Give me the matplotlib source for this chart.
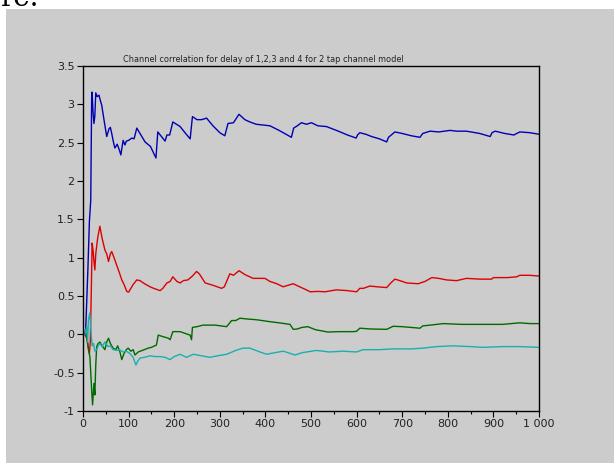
import matplotlib
matplotlib.use("Agg")
import matplotlib.pyplot as plt
from matplotlib.ticker import FuncFormatter, MultipleLocator
from matplotlib.patches import Rectangle

# delay 1 (blue)
x_blue = [4, 6, 8, 11, 14, 17, 19, 20, 22, 24, 26, 28, 31, 35, 38, 41, 46, 52, 57, 60, 63, 67, 70, 75, 80, 83,
          88, 92, 95, 100, 107, 112, 115, 118, 127, 136, 148, 160, 164, 172, 180, 184, 190, 197, 213, 225, 235,
          240, 250, 260, 271, 285, 300, 311, 318, 330, 342, 355, 366, 380, 395, 410, 430, 457, 462, 470, 479,
          490, 501, 515, 534, 560, 580, 599, 602, 607, 620, 633, 650, 666, 670, 684, 700, 720, 739, 745, 761,
          780, 805, 820, 841, 870, 893, 897, 904, 925, 945, 951, 958, 980, 1000]
y_blue = [0.0, 0.08, 0.4, 0.9, 1.47, 1.75, 3.10, 3.16, 2.9, 2.75, 2.85, 3.15, 3.1, 3.12, 3.05, 2.99, 2.8, 2.58,
          2.68, 2.7, 2.62, 2.5, 2.43, 2.48, 2.4, 2.34, 2.53, 2.47, 2.52, 2.53, 2.56, 2.55, 2.62, 2.69, 2.6, 2.51,
          2.45, 2.3, 2.64, 2.58, 2.52, 2.6, 2.6, 2.77, 2.71, 2.62, 2.55, 2.84, 2.8, 2.8, 2.82, 2.72, 2.63, 2.59,
          2.75, 2.76, 2.87, 2.8, 2.77, 2.74, 2.73, 2.72, 2.66, 2.57, 2.69, 2.72, 2.76, 2.74, 2.76, 2.72, 2.71,
          2.65, 2.6, 2.56, 2.6, 2.63, 2.61, 2.58, 2.55, 2.51, 2.57, 2.64, 2.62, 2.59, 2.57, 2.62, 2.65, 2.64,
          2.66, 2.65, 2.65, 2.62, 2.58, 2.63, 2.65, 2.62, 2.60, 2.62, 2.64, 2.63, 2.61]

# delay 2 (red)
x_red = [4, 8, 11, 14, 16, 18, 20, 22, 24, 26, 28, 32, 37, 42, 48, 52, 56, 60, 63, 68, 74, 80, 85, 90, 96, 100,
         105, 110, 118, 125, 135, 147, 155, 169, 175, 184, 191, 197, 206, 213, 220, 230, 240, 249, 255, 268, 285,
         304, 310, 322, 330, 342, 355, 373, 390, 399, 410, 425, 439, 450, 461, 475, 490, 498, 515, 531, 545, 556,
         580, 600, 607, 615, 629, 645, 666, 675, 684, 695, 710, 735, 750, 765, 780, 797, 819, 841, 870, 896, 900,
         930, 951, 958, 980, 1000]
y_red = [0.0, -0.05, -0.15, -0.25, -0.1, 0.5, 1.19, 1.1, 0.95, 0.84, 1.05, 1.25, 1.41, 1.25, 1.10, 1.05, 0.95,
         1.05, 1.08, 1.0, 0.90, 0.8, 0.71, 0.65, 0.56, 0.55, 0.6, 0.65, 0.71, 0.7, 0.66, 0.62, 0.6, 0.57, 0.6,
         0.67, 0.69, 0.75, 0.69, 0.67, 0.7, 0.71, 0.76, 0.82, 0.79, 0.67, 0.64, 0.60, 0.62, 0.79, 0.77, 0.83,
         0.78, 0.73, 0.73, 0.73, 0.69, 0.66, 0.62, 0.64, 0.66, 0.62, 0.58, 0.555, 0.56, 0.555, 0.57, 0.58, 0.57,
         0.555, 0.6, 0.6, 0.63, 0.62, 0.61, 0.67, 0.72, 0.7, 0.67, 0.66, 0.69, 0.74, 0.73, 0.71, 0.70, 0.73,
         0.72, 0.72, 0.74, 0.74, 0.75, 0.77, 0.77, 0.76]

# delay 3 (green)
x_green = [4, 7, 10, 12, 15, 17, 19, 21, 24, 26, 28, 30, 33, 37, 42, 48, 52, 56, 60, 66, 72, 76, 81, 85, 90, 95,
           99, 105, 110, 114, 121, 130, 143, 150, 161, 165, 175, 187, 191, 197, 213, 225, 235, 238, 240, 250, 263,
           290, 315, 326, 335, 344, 360, 381, 410, 430, 454, 461, 470, 480, 493, 510, 537, 560, 593, 600, 607,
           630, 666, 680, 700, 739, 745, 761, 790, 830, 877, 920, 958, 980, 1000]
y_green = [0.0, 0.02, -0.1, -0.2, -0.29, -0.5, -0.73, -0.92, -0.64, -0.79, -0.4, -0.16, -0.12, -0.10, -0.15,
           -0.20, -0.1, -0.05, -0.12, -0.18, -0.2, -0.15, -0.23, -0.33, -0.25, -0.2, -0.18, -0.22, -0.2, -0.27,
           -0.23, -0.21, -0.18, -0.17, -0.14, -0.01, -0.03, -0.05, -0.07, 0.035, 0.035, 0.01, -0.01, -0.07, 0.09,
           0.1, 0.12, 0.12, 0.10, 0.18, 0.18, 0.21, 0.2, 0.19, 0.165, 0.15, 0.13, 0.065, 0.07, 0.09, 0.10, 0.06,
           0.03, 0.035, 0.035, 0.04, 0.08, 0.07, 0.065, 0.105, 0.1, 0.08, 0.11, 0.12, 0.14, 0.13, 0.13, 0.13,
           0.15, 0.14, 0.14]

# delay 4 (cyan)
x_cyan = [4, 8, 10, 12, 15, 18, 20, 23, 26, 30, 34, 37, 42, 48, 55, 60, 66, 75, 80, 88, 95, 103, 110, 116, 120,
          125, 135, 147, 158, 169, 180, 191, 200, 213, 227, 242, 260, 278, 295, 315, 335, 351, 366, 388, 403, 420,
          439, 450, 465, 480, 512, 540, 570, 600, 614, 650, 680, 720, 746, 760, 776, 812, 850, 877, 920, 958, 1000]
y_cyan = [0.0, 0.1, -0.1, 0.19, 0.28, 0.0, -0.15, -0.12, -0.22, -0.2, -0.14, -0.12, -0.16, -0.10, -0.16, -0.15,
          -0.20, -0.21, -0.2, -0.23, -0.22, -0.25, -0.3, -0.40, -0.35, -0.31, -0.3, -0.28, -0.29, -0.29, -0.3,
          -0.33, -0.29, -0.26, -0.30, -0.26, -0.28, -0.30, -0.28, -0.26, -0.21, -0.18, -0.18, -0.23, -0.26, -0.24,
          -0.22, -0.24, -0.27, -0.24, -0.21, -0.23, -0.22, -0.23, -0.20, -0.20, -0.19, -0.19, -0.18, -0.17, -0.16,
          -0.15, -0.16, -0.17, -0.16, -0.16, -0.17]

title = "Channel correlation for delay of 1,2,3 and 4 for 2 tap channel model"

bg = "#cccccc"
fig = plt.figure(figsize=(6.14, 4.63), dpi=100, facecolor="white")
# grey window area of the screenshot, behind the axes
fig.patches.append(Rectangle((6 / 614, 0), 1, 1 - 9 / 463, transform=fig.transFigure,
                             facecolor=bg, edgecolor="none", zorder=-5))
fig.text(0.0, 1 - 6 / 463, "re.", fontsize=20, family="DejaVu Serif", va="baseline", ha="left")

ax = fig.add_axes([83 / 614, 1 - 411 / 463, (539 - 83) / 614, (411 - 66) / 463])
ax.set_zorder(1)
ax.set_facecolor(bg)

ax.plot(x_blue, y_blue, color="#0000b4", lw=1.0)
ax.plot(x_red, y_red, color="#dd0000", lw=1.0)
ax.plot(x_green, y_green, color="#006a00", lw=1.0)
ax.plot(x_cyan, y_cyan, color="#1aafaf", lw=1.0)

ax.set_xlim(0, 1000)
ax.set_ylim(-1, 3.5)
ax.xaxis.set_major_locator(MultipleLocator(100))
ax.xaxis.set_minor_locator(MultipleLocator(50))
ax.yaxis.set_major_locator(MultipleLocator(0.5))
ax.xaxis.set_major_formatter(FuncFormatter(lambda v, p: f"{int(v):,}".replace(",", " ")))
ax.yaxis.set_major_formatter(FuncFormatter(lambda v, p: f"{v:g}"))
ax.tick_params(direction="out", length=4, width=0.8, labelsize=8, labelcolor="#222222", pad=2)
ax.tick_params(which="minor", direction="out", length=2.5, width=0.8)
ax.tick_params(top=False, right=False)
for s in ax.spines.values():
    s.set_linewidth(1.0)

fig.text(263 / 614, 1 - 60 / 463, title, fontsize=5.9, ha="center", va="center", color="#222222")

fig.savefig("out.png", dpi=100, facecolor=fig.get_facecolor())
